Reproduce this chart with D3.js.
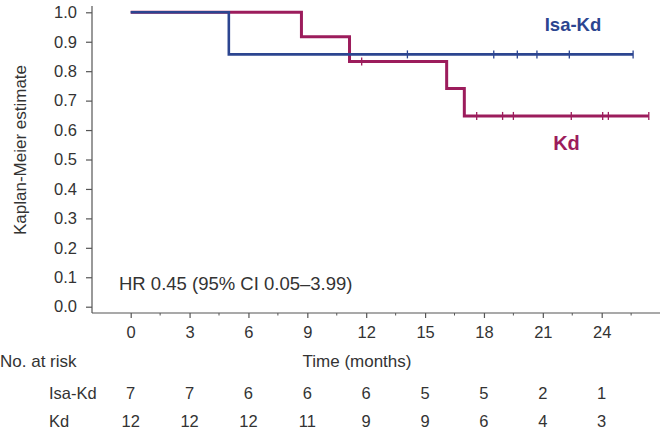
<!DOCTYPE html>
<html><head><meta charset="utf-8">
<script src="https://cdn.jsdelivr.net/npm/d3@7"></script>
<style>body{margin:0;background:#fff}svg{display:block}text{font-family:"Liberation Sans",Arial,sans-serif;fill:#333}</style>
</head><body><svg id="c" width="666" height="430"></svg>
<script>
const timeTicks = [0, 3, 6, 9, 12, 15, 18, 21, 24];
const yTicks = [0, 0.1, 0.2, 0.3, 0.4, 0.5, 0.6, 0.7, 0.8, 0.9, 1.0];
const isaTimes = [0, 5.0, 25.6];
const isaSurv = [1.0, 0.857, 0.857];
const isaCensor = [14.1, 18.5, 19.7, 20.7, 22.35, 25.6];
const kdTimes = [0, 8.7, 11.15, 16.1, 17.0, 26.4];
const kdSurv = [1.0, 0.917, 0.833, 0.741, 0.648, 0.648];
const kdCensor = [11.77, 17.63, 18.95, 19.5, 22.45, 24.05, 24.34, 26.4];
const riskGroups = ["Isa-Kd", "Kd"];
const riskIsa = [7, 7, 6, 6, 6, 5, 5, 2, 1];
const riskKd = [12, 12, 12, 11, 9, 9, 6, 4, 3];
const hrText = "HR 0.45 (95% CI 0.05\u20133.99)";

const blue = "#2c4590", maroon = "#9c1c5c", axisCol = "#555";
const svg = d3.select("#c");
const x = d3.scaleLinear().domain([0, 24]).range([130.7, 601.7]);
const y = d3.scaleLinear().domain([0, 1]).range([306.7, 12.3]);
const axisY = 313, axisX = 92;

// axes lines
svg.append("line").attr("x1", axisX).attr("x2", axisX).attr("y1", 6).attr("y2", axisY).attr("stroke", axisCol).attr("stroke-width", 1.2);
svg.append("line").attr("x1", axisX).attr("x2", 660).attr("y1", axisY).attr("y2", axisY).attr("stroke", axisCol).attr("stroke-width", 1.2);

// y axis
const ya = svg.append("g").attr("transform", `translate(${axisX},0)`)
  .call(d3.axisLeft(y).tickValues(yTicks).tickFormat(d3.format(".1f")).tickSize(6).tickPadding(9));
ya.select(".domain").remove();
ya.selectAll("line").attr("stroke", axisCol).attr("stroke-width", 1.2);
ya.selectAll("text").style("font-size", "16.5px").attr("fill", "#333");

// x axis major
const xa = svg.append("g").attr("transform", `translate(0,${axisY})`)
  .call(d3.axisBottom(x).tickValues(timeTicks).tickSize(5).tickPadding(8));
xa.select(".domain").remove();
xa.selectAll("line").attr("stroke", axisCol).attr("stroke-width", 1.2);
xa.selectAll("text").style("font-size", "16.5px").attr("fill", "#333");
// minor ticks
const minor = d3.range(1.5, 27, 3);
svg.append("g").selectAll("line").data(minor).join("line")
  .attr("x1", d => x(d)).attr("x2", d => x(d)).attr("y1", axisY).attr("y2", axisY + 2.5)
  .attr("stroke", axisCol).attr("stroke-width", 1);

// axis labels
svg.append("text").attr("transform", "translate(26,150) rotate(-90)").attr("text-anchor", "middle")
  .style("font-size", "17px").text("Kaplan-Meier estimate");
svg.append("text").attr("x", 357).attr("y", 367).attr("text-anchor", "middle").style("font-size", "17px").text("Time (months)");
svg.append("text").attr("x", 0).attr("y", 367).style("font-size", "17px").text("No. at risk");

// curves
const line = d3.line().x(d => x(d[0])).y(d => y(d[1])).curve(d3.curveStepAfter);
function drawCurve(times, surv, censor, color, w) {
  const pts = times.map((t, i) => [t, surv[i]]);
  svg.append("path").datum(pts).attr("d", line).attr("fill", "none").attr("stroke", color).attr("stroke-width", w);
  const survAt = t => { let s = surv[0]; times.forEach((tt, i) => { if (tt <= t) s = surv[i]; }); return s; };
  svg.append("g").selectAll("line").data(censor).join("line")
    .attr("x1", d => x(d)).attr("x2", d => x(d))
    .attr("y1", d => y(survAt(d)) - 4).attr("y2", d => y(survAt(d)) + 4)
    .attr("stroke", color).attr("stroke-width", 1.3);
}
drawCurve(kdTimes, kdSurv, kdCensor, maroon, 3);
drawCurve(isaTimes, isaSurv, isaCensor, blue, 2.6);

// curve labels
svg.append("text").attr("x", 573).attr("y", 31).attr("text-anchor", "middle").style("font-size", "18.5px").style("font-weight", "bold").style("fill", blue).text("Isa-Kd");
svg.append("text").attr("x", 566.5).attr("y", 150).attr("text-anchor", "middle").style("font-size", "20px").style("font-weight", "bold").style("fill", maroon).text("Kd");

// HR
svg.append("text").attr("x", 119).attr("y", 290).style("font-size", "18.5px").text(hrText);

// risk table
const rows = [riskIsa, riskKd];
const rowY = [399, 427];
rows.forEach((r, i) => {
  svg.append("text").attr("x", 49).attr("y", rowY[i]).style("font-size", "16.5px").text(riskGroups[i]);
  svg.append("g").selectAll("text").data(r).join("text")
    .attr("x", (d, j) => x(timeTicks[j])).attr("y", rowY[i]).attr("text-anchor", "middle")
    .style("font-size", "16.5px").text(d => d);
});
</script></body></html>
